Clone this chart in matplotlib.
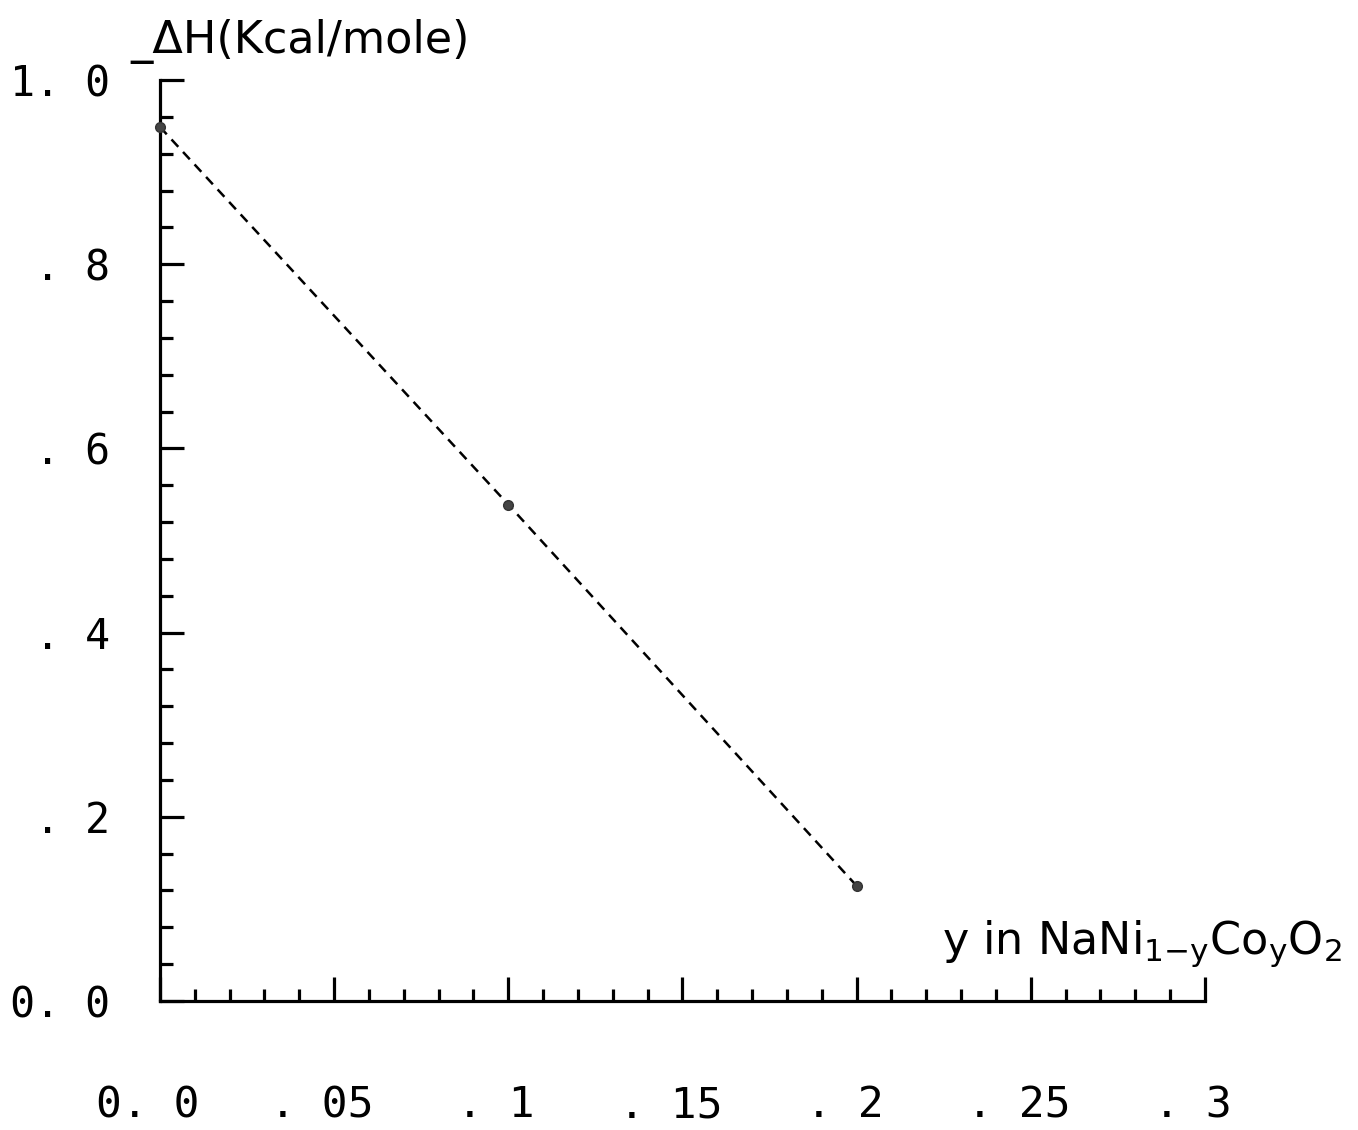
import matplotlib
matplotlib.use("Agg")
import matplotlib.pyplot as plt
import matplotlib.transforms as mtransforms
import numpy as np

# data
y_frac = [0.0, 0.1, 0.2]
neg_dH = [0.949, 0.539, 0.125]

x_major = [0.0, 0.05, 0.1, 0.15, 0.2, 0.25, 0.3]
x_labels = ["0. 0", ". 05", ". 1", ". 15", ". 2", ". 25", ". 3"]
y_major = [0.0, 0.2, 0.4, 0.6, 0.8, 1.0]
y_labels = ["0. 0", ". 2", ". 4", ". 6", ". 8", "1. 0"]

fig = plt.figure(figsize=(13.58, 11.3), dpi=100)
ax = fig.add_axes([0.1178, 0.1142, 0.7695, 0.8150])

ax.plot(y_frac, neg_dH, color='black', linestyle=(0, (4, 2.8)), linewidth=1.8,
        marker='o', markersize=7, markerfacecolor='#444444', markeredgecolor='#333333',
        clip_on=False, zorder=3)

ax.set_xlim(0, 0.3)
ax.set_ylim(0, 1.0)

for s in ['top', 'right']:
    ax.spines[s].set_visible(False)
for s in ['left', 'bottom']:
    ax.spines[s].set_linewidth(2.3)

ax.set_xticks(x_major)
ax.set_xticklabels(x_labels)
ax.set_xticks(np.arange(0, 0.3001, 0.01), minor=True)
ax.set_yticks(y_major)
ax.set_yticklabels(y_labels)
ax.set_yticks(np.arange(0, 1.0001, 0.04), minor=True)

mono = 'DejaVu Sans Mono'
ax.tick_params(axis='both', which='major', direction='in', length=17, width=2.3)
ax.tick_params(axis='both', which='minor', direction='in', length=9, width=2.3)
ax.tick_params(axis='x', which='major', pad=60, labelsize=31)
ax.tick_params(axis='y', which='major', pad=36, labelsize=30)
shift = mtransforms.ScaledTranslation(-12 / 100, 0, fig.dpi_scale_trans)
for lab in ax.get_xticklabels():
    lab.set_family(mono)
    lab.set_transform(lab.get_transform() + shift)
for lab in ax.get_yticklabels():
    lab.set_family(mono)

fig.text(0.096, 0.963, "_ΔH(Kcal/mole)", fontsize=32, ha='left', va='center')
fig.text(0.988, 0.165, r"y in NaNi$_{\mathrm{1{-}y}}$Co$_{\mathrm{y}}$O$_{\mathrm{2}}$",
         fontsize=32, ha='right', va='center')

fig.savefig("out.png", dpi=100)
